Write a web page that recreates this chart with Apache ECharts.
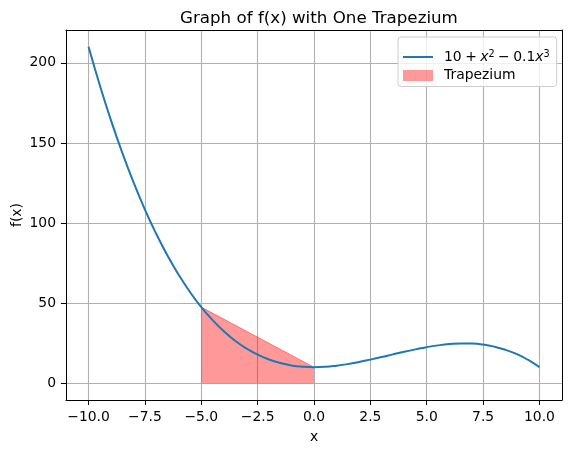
<!DOCTYPE html>
<html>
<head>
<meta charset="utf-8">
<script src="https://cdn.jsdelivr.net/npm/echarts@6/dist/echarts.min.js"></script>
<style>
  html, body { margin: 0; padding: 0; background: #fff; }
  #c1 { width: 571px; height: 453px; }
</style>
</head>
<body>
<div id="c1"></div>
<script>
// 曲线取样点 (x, f(x))
var xs = [-10, -9.5, -9, -8.5, -8, -7.5, -7, -6.5, -6, -5.5, -5, -4.5, -4, -3.5, -3, -2.5, -2, -1.5, -1, -0.5,
    0, 0.5, 1, 1.5, 2, 2.5, 3, 3.5, 4, 4.5, 5, 5.5, 6, 6.5, 7, 7.5, 8, 8.5, 9, 9.5, 10];
var ys = [210, 186.0, 163.9, 143.7, 125.2, 108.4, 93.3, 79.7, 67.6, 56.9, 47.5, 39.4, 32.4, 26.5, 21.7, 17.8, 14.8, 12.6, 11.1, 10.3,
    10, 10.2, 10.9, 11.9, 13.2, 14.7, 16.3, 18.0, 19.6, 21.1, 22.5, 23.6, 24.4, 24.8, 24.7, 24.1, 22.8, 20.8, 18.1, 14.5, 10];
// 梯形顶边
var trapX = [-5, 0];
var trapY = [47.5, 10];
// 刻度
var xTicks = [-10, -7.5, -5, -2.5, 0, 2.5, 5, 7.5, 10];
var yTicks = [0, 50, 100, 150, 200];

var FONT = 'DejaVu Sans';

var curve = xs.map(function (x, i) { return [x, ys[i]]; });
var trap = trapX.map(function (x, i) { return [x, trapY[i]]; });

//边框轴(上/右)
function frameAxis(pos, min, max) {
    return {
        type: 'value', position: pos, min: min, max: max,
        axisLine: { show: true, onZero: false, lineStyle: { color: '#000', width: 1 } },
        axisTick: { show: false }, axisLabel: { show: false }, splitLine: { show: false }
    };
}

var SP = '\u2005';
var chart = echarts.init(document.getElementById('c1'));
chart.setOption({
    animation: false,
    title: {
        text: 'Graph of f(x) with One Trapezium',
        left: 175, top: 5,
        textStyle: { fontFamily: FONT, fontSize: 16.7, fontWeight: 'normal', color: '#000' }
    },
    grid: {
        left: 66, right: 9, top: 30, bottom: 53,
        outerBoundsMode: 'none', containLabel: false
    },
    legend: {
        orient: 'vertical',
        left: 398, top: 37,
        padding: [12, 7, 3, 5],
        itemGap: 2.5,
        itemWidth: 30, itemHeight: 11,
        backgroundColor: 'rgba(255,255,255,0.8)',
        borderColor: '#cccccc', borderWidth: 1, borderRadius: 3,
        data: [
            { name: 'f', icon: 'path://M0,0M0,4.5L30,4.5L30,6.5L0,6.5ZM30,11' },
            { name: 'Trapezium', icon: 'rect' }
        ],
        formatter: function (name) {
            if (name === 'f') {
                return '10' + SP + '+' + SP + '{i|x}{s|2}' + SP + '\u2212' + SP + '0.1{i|x}{s|3}';
            }
            return name;
        },
        textStyle: {
            fontFamily: FONT, fontSize: 13.9, color: '#000', lineHeight: 16, padding: [0, 0, 0, 6],
            rich: {
                i: { fontFamily: FONT, fontSize: 13.9, fontStyle: 'italic', color: '#000', lineHeight: 16 },
                s: { fontFamily: FONT, fontSize: 9.7, color: '#000', verticalAlign: 'top', lineHeight: 10 }
            }
        }
    },
    xAxis: [{
        type: 'value', min: -11, max: 11, position: 'bottom',
        name: 'x', nameLocation: 'middle', nameGap: 30, nameMoveOverlap: false,
        nameTextStyle: { fontFamily: FONT, fontSize: 13.9, color: '#000' },
        axisLine: { onZero: false, lineStyle: { color: '#000', width: 1 } },
        axisTick: { show: true, length: 5, customValues: xTicks, lineStyle: { color: '#000' } },
        axisLabel: {
            customValues: xTicks, margin: 10,
            fontFamily: FONT, fontSize: 13.9, color: '#000',
            formatter: function (v) { return (v < 0 ? '\u2212' : '') + Math.abs(v).toFixed(1); }
        },
        splitLine: { show: true, customValues: xTicks, lineStyle: { color: '#b0b0b0', width: 1.1 } }
    }, frameAxis('top', -11, 11)],
    yAxis: [{
        type: 'value', min: -10.5, max: 220.5, position: 'left',
        name: 'f(x)', nameLocation: 'middle', nameGap: 42, nameMoveOverlap: false,
        nameTextStyle: { fontFamily: FONT, fontSize: 13.9, color: '#000' },
        axisLine: { show: true, onZero: false, lineStyle: { color: '#000', width: 1 } },
        axisTick: { show: true, length: 5, customValues: yTicks, lineStyle: { color: '#000' } },
        axisLabel: {
            customValues: yTicks, margin: 10,
            fontFamily: FONT, fontSize: 13.9, color: '#000'
        },
        splitLine: { show: true, customValues: yTicks, lineStyle: { color: '#b0b0b0', width: 1.1 } }
    }, frameAxis('right', -10.5, 220.5)],
    series: [
        {
            name: 'Trapezium', type: 'line', data: trap,
            symbol: 'none', z: 2,
            itemStyle: { color: 'rgba(255,0,0,0.4)' },
            lineStyle: { color: 'rgba(255,0,0,0.4)', width: 1 },
            areaStyle: { color: 'rgba(255,0,0,0.4)', opacity: 1, origin: 0 }
        },
        {
            name: 'f', type: 'line', data: curve,
            symbol: 'none', smooth: true, z: 3,
            itemStyle: { color: '#1f77b4' },
            lineStyle: { color: '#1f77b4', width: 2 }
        }
    ]
});
</script>
</body>
</html>
